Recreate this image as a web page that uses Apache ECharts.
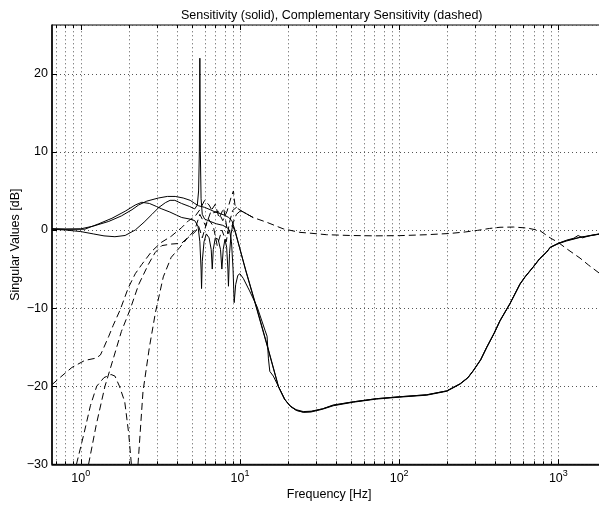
<!DOCTYPE html>
<html><head><meta charset="utf-8">
<script src="https://cdn.jsdelivr.net/npm/echarts@6/dist/echarts.min.js"></script>
<style>html,body{margin:0;padding:0;background:#fff}#c{width:599px;height:507px}</style>
</head><body><div id="c"></div>
<script>
// ---- Sensitivity (solid) singular values ----
const s1Freq = [0.66,0.8,1.0,1.2,1.5,1.8,2.1,2.31,2.6,3.08,3.5,3.92,4.4,4.87,5.2,5.5,6.0,6.5,7.0,7.5,8.0,8.5,8.9,9.3,10.8,12.7,14.9,17.4,19,20.6,22.5,25,28,33,38.6,51.5,72,101,149,199,241,270,292,325,355,395,430,497,574,617,696,760,844,890,1000,1127,1368,1600,1828,2000];
const s1Db   = [0.15,0.12,0.15,0.5,1.1,1.8,2.6,3.2,3.7,4.1,4.3,4.3,4.1,3.8,3.4,3.1,2.9,2.6,2.3,2.1,1.9,1.6,1.2,0,-5,-10,-15,-20,-21.6,-22.5,-23.0,-23.25,-23.2,-22.9,-22.4,-22.0,-21.6,-21.35,-21.1,-20.6,-19.7,-18.9,-18.0,-16.6,-15.0,-13.2,-11.6,-9.4,-6.9,-6.0,-4.7,-3.7,-2.8,-2.2,-1.7,-1.35,-0.92,-0.7,-0.5,-0.4];

const s2Freq = [0.66,0.8,1.06,1.3,1.57,1.9,2.2,2.42,2.7,3.0,3.23,3.63,4.0,4.31,4.85,5.2,5.45,5.6,5.7,5.74,5.8,5.95,6.15,6.4,6.6,6.7,6.8,7.0,7.3,7.55,7.7,7.85,8.05,8.25,8.4,8.47,8.6,8.8,9.0,9.15,9.35,10.9,12.8,15.0,17.5,19.1,20.8,22.7,25,28,33,38.6,51.5,72,101,149,199,241,270,292,325,355,395,430,497,574,617,696,760,844,890,1000,1127,1368,1600,1828,2000];
const s2Db   = [0.15,0.1,0.1,0.8,1.5,2.4,3.2,3.55,3.4,3.0,2.7,2.3,1.9,1.6,1.4,1.2,0.5,-1.5,-5,-7.5,-4,-1.5,-0.5,-1.0,-2.5,-5.0,-2.5,-1.0,-1.2,-2.5,-5.0,-2.5,-1.2,-2.2,-5,-7.2,-3,-0.5,0.6,0.6,-0.3,-5.2,-10.1,-15.1,-20.1,-21.7,-22.6,-23.1,-23.35,-23.3,-22.95,-22.5,-22.05,-21.65,-21.4,-21.15,-20.65,-19.75,-18.95,-18.05,-16.65,-15.05,-13.25,-11.65,-9.45,-6.95,-6.05,-4.75,-3.75,-2.85,-2.25,-1.75,-1.4,-0.95,-0.72,-0.52,-0.42];

const s3Freq = [0.66,0.8,1.0,1.2,1.4,1.64,1.9,2.2,2.5,2.8,3.1,3.4,3.64,3.9,4.3,4.84,5.2,5.4,5.5,5.56,5.6,5.64,5.7,5.8,6.0,6.5,7.1,7.8,8.3,8.6,8.85,9.05,9.2,9.4,9.7,10.0,10.5,11.5,12.8,14.4,14.8,15.1,15.4,16.2,17.6,19.2,20.8,22.6,25,28,33,38.6,51.5,72,101,149,199,241,270,292,325,355,395,430,497,574,617,696,760,844,890,1000,1127,1250,1330,1420,1600,1828,2000];
const s3Db   = [0.1,0.0,-0.2,-0.5,-0.75,-0.86,-0.7,0,1.0,2.0,2.9,3.5,3.8,3.8,3.4,3.0,2.7,3.2,5,10,22,10,4,2.0,1.4,1.1,0.8,0.6,0.3,0,-1.5,-5,-9.3,-7,-5.8,-5.6,-6.2,-7.8,-9.8,-12.9,-13.6,-16.5,-18.1,-18.7,-20.2,-21.75,-22.6,-23.1,-23.3,-23.25,-22.9,-22.45,-22.0,-21.6,-21.35,-21.1,-20.6,-19.7,-18.9,-18.0,-16.6,-15.0,-13.2,-11.6,-9.4,-6.9,-6.0,-4.7,-3.7,-2.8,-2.2,-1.7,-1.3,-1.05,-0.7,-1.0,-0.68,-0.48,-0.38];

// ---- Complementary sensitivity (dashed) singular values ----
const t1Freq = [0.66,0.75,0.88,1.06,1.25,1.33,1.4,1.5,1.6,1.77,1.99,2.2,2.42,2.8,3.2,3.7,4.3,4.76,5.2,5.6,6.0,6.4,6.8,7.3,7.8,8.3,8.8,9.1,9.3,9.6,10.5,12.1,14.7,18.7,23.8,27.5,34.9,49,70,101,150,209,260,310,370,430,523,640,768,887,1000,1127,1368,1549,1828,2000];
const t1Db   = [-19.8,-18.8,-17.6,-16.7,-16.4,-16.0,-15.0,-13.6,-12.2,-10.2,-7.4,-5.6,-4.4,-2.7,-1.6,-0.8,0.3,1.2,1.7,2.6,3.8,3.2,2.2,2.4,1.2,2.4,4.2,5.0,3.2,2.8,2.3,1.6,1.0,0.15,-0.3,-0.4,-0.6,-0.7,-0.75,-0.72,-0.6,-0.44,-0.25,-0.05,0.2,0.35,0.38,0.25,-0.1,-1.0,-1.6,-2.4,-3.6,-4.5,-5.6,-6.2];

const t2Freq = [0.94,1.05,1.15,1.26,1.4,1.55,1.64,1.75,1.89,2.0,2.08,2.18,2.29,2.46,2.7,2.95,3.3,3.7,4.2,4.7,5.2,5.5,5.8,6.3,6.8,7.2,7.7,8.2,8.6,9.0,9.5,10,10.5,12.1];
const t2Db   = [-30,-26,-22.5,-20,-18.9,-18.5,-18.7,-20,-22,-26,-30,-38,-30,-20.7,-15,-10.5,-6,-3.5,-2.2,-1.0,-0.3,0.5,-1.0,1.5,0.5,-2.0,0,-1.5,1.0,2.5,2.9,2.5,2.3,1.6];

const t3Freq = [1.12,1.25,1.42,1.6,1.8,2.04,2.31,2.66,2.93,3.23,3.7,4.3,4.8,5.2,5.6,6.1,6.6,7.0,7.4,7.9,8.4,8.9,9.5,10,10.5,12.1];
const t3Db   = [-30,-25,-20,-16.5,-13,-10.2,-7,-4.4,-2.9,-2.0,-1.8,-1.7,-0.8,0,2.0,0.5,2.5,3.3,1.5,2.8,-0.5,0.5,2.0,2.4,2.3,1.6];

// ---- axes ----
const xMin = 0.66, xMax = 2000;
const yMin = -30, yMax = 26.25, yStep = 10;
const majorFreqs = [1, 10, 100, 1000];
const minorFreqs = [0.7,0.8,0.9,2,3,4,5,6,7,8,9,20,30,40,50,60,70,80,90,200,300,400,500,600,700,800,900,2000];

const FONT = "'Liberation Sans', Arial, Helvetica, sans-serif";
const FS = 12.5;
const pairs = (f, d) => f.map((v, i) => [v, d[i]]);
const gridItems = majorFreqs.map(f => [f, yMin, 1]).concat(minorFreqs.map(f => [f, yMin, 0]));

const solid = {type: 'line', symbol: 'none', smooth: false, clip: true, silent: true,
  lineStyle: {color: '#000', width: 1}};
const dashed = {type: 'line', symbol: 'none', smooth: false, clip: true, silent: true,
  lineStyle: {color: '#000', width: 1, type: [7, 4]}};

const chart = echarts.init(document.getElementById('c'), null, {renderer: 'canvas'});
chart.setOption({
  animation: false,
  backgroundColor: '#fff',
  textStyle: {fontFamily: FONT},
  title: {
    text: 'Sensitivity (solid), Complementary Sensitivity (dashed)',
    left: 176, top: 4,
    textStyle: {fontFamily: FONT, fontSize: FS, fontWeight: 'normal', color: '#000'}
  },
  grid: {left: 52, top: 25, width: 554.3, height: 439.3, outerBoundsMode: 'none', containLabel: false,
    show: true, borderColor: '#000', borderWidth: 1, backgroundColor: 'transparent'},
  xAxis: {
    type: 'log', logBase: 10, min: xMin, max: xMax,
    name: 'Frequency [Hz]', nameLocation: 'middle', nameGap: 24, nameMoveOverlap: false,
    nameTextStyle: {fontFamily: FONT, fontSize: FS, color: '#000'},
    axisLine: {show: true, onZero: false, lineStyle: {color: '#000', width: 1.5}},
    axisTick: {show: false},
    splitLine: {show: false},
    axisLabel: {
      margin: 5, color: '#000', fontFamily: FONT,
      formatter: v => {
        const e = Math.log10(v);
        if (Math.abs(e - Math.round(e)) > 1e-6) return '';
        return '{b|10}{s|' + Math.round(e) + '}';
      },
      rich: {
        b: {fontFamily: FONT, fontSize: FS, color: '#000', lineHeight: 16, verticalAlign: 'bottom'},
        s: {fontFamily: FONT, fontSize: 9, color: '#000', lineHeight: 9, verticalAlign: 'top'}
      }
    }
  },
  yAxis: {
    type: 'value', min: yMin, max: yMax, interval: yStep,
    name: 'Singular Values [dB]', nameLocation: 'middle', nameGap: 30, nameMoveOverlap: false,
    nameTextStyle: {fontFamily: FONT, fontSize: FS, color: '#000'},
    axisLine: {show: true, onZero: false, lineStyle: {color: '#000', width: 1.5}},
    axisTick: {show: true, inside: true, length: 5, lineStyle: {color: '#000'}},
    splitLine: {show: true, lineStyle: {color: '#555', width: 1, type: [1, 3]}},
    axisLabel: {
      margin: 4, color: '#000', fontFamily: FONT, fontSize: FS, showMaxLabel: false,
      formatter: v => (Math.abs(v % yStep) > 1e-6 ? '' : String(v).replace('-', '\u2212'))
    }
  },
  series: [
    {
      type: 'custom', coordinateSystem: 'cartesian2d', silent: true, clip: false, z: 1,
      data: gridItems,
      renderItem: (params, api) => {
        const f = api.value(0);
        const major = api.value(2) === 1;
        const p0 = api.coord([f, yMin]);
        const p1 = api.coord([f, yMax]);
        const x = Math.round(p0[0]) + 0.5;
        const tl = major ? 5 : 3;
        return {type: 'group', children: [
          {type: 'line', shape: {x1: x, y1: p0[1], x2: x, y2: p1[1]},
            style: {stroke: '#555', lineWidth: 1, lineDash: [1, 3]}},
          {type: 'line', shape: {x1: x, y1: p0[1], x2: x, y2: p0[1] - tl},
            style: {stroke: '#000', lineWidth: 1}},
          {type: 'line', shape: {x1: x, y1: p1[1], x2: x, y2: p1[1] + tl},
            style: {stroke: '#000', lineWidth: 1}}
        ]};
      }
    },
    Object.assign({name: 'S1', data: pairs(s1Freq, s1Db)}, solid),
    Object.assign({name: 'S2', data: pairs(s2Freq, s2Db)}, solid),
    Object.assign({name: 'S3', data: pairs(s3Freq, s3Db)}, solid),
    Object.assign({name: 'T1', data: pairs(t1Freq, t1Db)}, dashed),
    Object.assign({name: 'T2', data: pairs(t2Freq, t2Db)}, dashed),
    Object.assign({name: 'T3', data: pairs(t3Freq, t3Db)}, dashed)
  ]
});
</script></body></html>
